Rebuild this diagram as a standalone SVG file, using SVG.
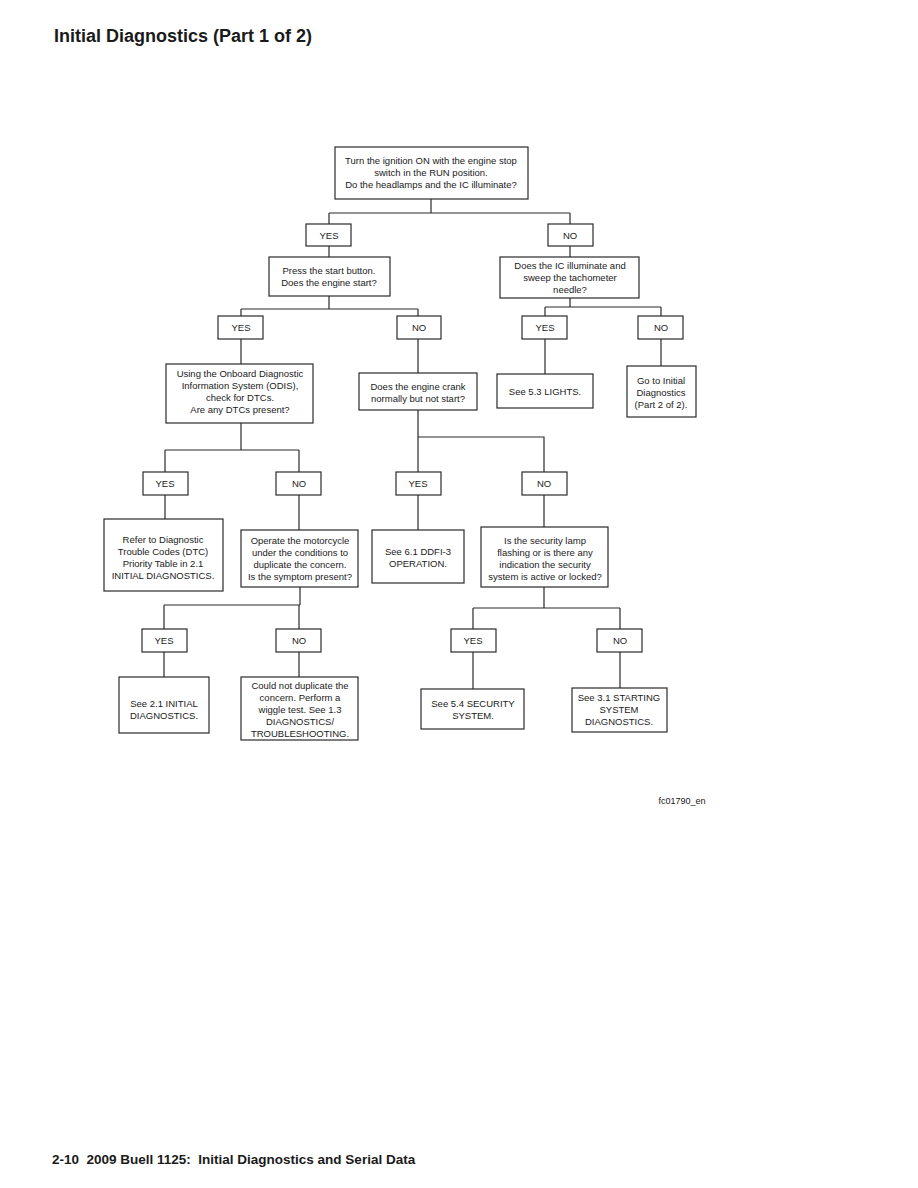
<svg xmlns="http://www.w3.org/2000/svg" width="918" height="1188" viewBox="0 0 918 1188">
<style>
.box{fill:#fff;stroke:#2a2a2a;stroke-width:1.2}
.t{font-family:"Liberation Sans",Arial,sans-serif;font-size:9.5px;fill:#1a1a1a;text-anchor:middle}
.c{fill:none;stroke:#2a2a2a;stroke-width:1.2}
.h{font-family:"Liberation Sans",Arial,sans-serif;font-weight:bold;fill:#1a1a1a}
</style>
<rect width="918" height="1188" fill="#fff"/>
<text class="h" x="54" y="42" font-size="18">Initial Diagnostics (Part 1 of 2)</text>
<g id="connectors">
<path class="c" d="M431 199V213M329 213H570M329 213V224M570 213V224"/>
<path class="c" d="M329 246V257M570 246V257"/>
<path class="c" d="M329 296V309M241 309H418M241 309V316M418 309V316"/>
<path class="c" d="M570 298V307M545 307H661M545 307V316M661 307V316"/>
<path class="c" d="M241 339V364M418 339V373M545 339V374M661 339V366"/>
<path class="c" d="M241 423V450M165 450H299M165 450V472M299 450V472"/>
<path class="c" d="M418 410V437H544V472M418 437V472"/>
<path class="c" d="M165 495V519M299 495V530M418 495V530M544 495V527"/>
<path class="c" d="M300 587V605M164 605H300M164 605V629M299 605V629"/>
<path class="c" d="M544 587V608M473 608H620M473 608V629M620 608V629"/>
<path class="c" d="M164 652V677M299 652V677M473 652V689M620 652V688"/>
</g>
<g id="n1"><rect class="box" x="335" y="147" width="193" height="52"/>
<text class="t" x="431" y="164">Turn the ignition ON with the engine stop</text>
<text class="t" x="431" y="176">switch in the RUN position.</text>
<text class="t" x="431" y="188">Do the headlamps and the IC illuminate?</text></g>
<g id="y1"><rect class="box" x="306" y="224" width="45" height="22"/><text class="t" x="329" y="238.5">YES</text></g>
<g id="no1"><rect class="box" x="548" y="224" width="45" height="22"/><text class="t" x="570" y="238.5">NO</text></g>
<g id="n2"><rect class="box" x="269" y="257" width="121" height="39"/>
<text class="t" x="329" y="274">Press the start button.</text>
<text class="t" x="329" y="286">Does the engine start?</text></g>
<g id="n3"><rect class="box" x="500" y="257" width="139" height="41"/>
<text class="t" x="570" y="269">Does the IC illuminate and</text>
<text class="t" x="570" y="281">sweep the tachometer</text>
<text class="t" x="570" y="293">needle?</text></g>
<g id="y2"><rect class="box" x="218" y="316" width="45" height="23"/><text class="t" x="241" y="331">YES</text></g>
<g id="no2"><rect class="box" x="397" y="316" width="44" height="23"/><text class="t" x="419" y="331">NO</text></g>
<g id="y3"><rect class="box" x="522" y="316" width="45" height="23"/><text class="t" x="545" y="331">YES</text></g>
<g id="no3"><rect class="box" x="638" y="316" width="45" height="23"/><text class="t" x="661" y="331">NO</text></g>
<g id="n4"><rect class="box" x="166" y="364" width="147" height="59"/>
<text class="t" x="240" y="377">Using the Onboard Diagnostic</text>
<text class="t" x="240" y="389">Information System (ODIS),</text>
<text class="t" x="240" y="401">check for DTCs.</text>
<text class="t" x="240" y="413">Are any DTCs present?</text></g>
<g id="n5"><rect class="box" x="359" y="373" width="118" height="37"/>
<text class="t" x="418" y="390">Does the engine crank</text>
<text class="t" x="418" y="402">normally but not start?</text></g>
<g id="n6"><rect class="box" x="497" y="374" width="96" height="34"/>
<text class="t" x="545" y="395">See 5.3 LIGHTS.</text></g>
<g id="n7"><rect class="box" x="627" y="366" width="69" height="51"/>
<text class="t" x="661" y="384">Go to Initial</text>
<text class="t" x="661" y="396">Diagnostics</text>
<text class="t" x="661" y="408">(Part 2 of 2).</text></g>
<g id="y4"><rect class="box" x="143" y="472" width="45" height="23"/><text class="t" x="165" y="487">YES</text></g>
<g id="no4"><rect class="box" x="276" y="472" width="45" height="23"/><text class="t" x="299" y="487">NO</text></g>
<g id="y5"><rect class="box" x="396" y="472" width="45" height="23"/><text class="t" x="418" y="487">YES</text></g>
<g id="no5"><rect class="box" x="522" y="472" width="45" height="23"/><text class="t" x="544" y="487">NO</text></g>
<g id="n8"><rect class="box" x="104" y="519" width="119" height="72"/>
<text class="t" x="163" y="543">Refer to Diagnostic</text>
<text class="t" x="163" y="555">Trouble Codes (DTC)</text>
<text class="t" x="163" y="567">Priority Table in 2.1</text>
<text class="t" x="163" y="579">INITIAL DIAGNOSTICS.</text></g>
<g id="n9"><rect class="box" x="241" y="530" width="117" height="57"/>
<text class="t" x="300" y="544">Operate the motorcycle</text>
<text class="t" x="300" y="556">under the conditions to</text>
<text class="t" x="300" y="568">duplicate the concern.</text>
<text class="t" x="300" y="580">Is the symptom present?</text></g>
<g id="n10"><rect class="box" x="372" y="530" width="92" height="53"/>
<text class="t" x="418" y="555">See 6.1 DDFI-3</text>
<text class="t" x="418" y="567">OPERATION.</text></g>
<g id="n11"><rect class="box" x="481" y="527" width="127" height="60"/>
<text class="t" x="545" y="544">Is the security lamp</text>
<text class="t" x="545" y="556">flashing or is there any</text>
<text class="t" x="545" y="568">indication the security</text>
<text class="t" x="545" y="580">system is active or locked?</text></g>
<g id="y6"><rect class="box" x="142" y="629" width="45" height="23"/><text class="t" x="164" y="644">YES</text></g>
<g id="no6"><rect class="box" x="276" y="629" width="45" height="23"/><text class="t" x="299" y="644">NO</text></g>
<g id="y7"><rect class="box" x="451" y="629" width="45" height="23"/><text class="t" x="473" y="644">YES</text></g>
<g id="no7"><rect class="box" x="597" y="629" width="45" height="23"/><text class="t" x="620" y="644">NO</text></g>
<g id="n12"><rect class="box" x="119" y="677" width="90" height="56"/>
<text class="t" x="164" y="707">See 2.1 INITIAL</text>
<text class="t" x="164" y="719">DIAGNOSTICS.</text></g>
<g id="n13"><rect class="box" x="241" y="677" width="117" height="63"/>
<text class="t" x="300" y="689">Could not duplicate the</text>
<text class="t" x="300" y="701">concern. Perform a</text>
<text class="t" x="300" y="713">wiggle test. See 1.3</text>
<text class="t" x="300" y="725">DIAGNOSTICS/</text>
<text class="t" x="300" y="737">TROUBLESHOOTING.</text></g>
<g id="n14"><rect class="box" x="421" y="689" width="103" height="40"/>
<text class="t" x="473" y="707">See 5.4 SECURITY</text>
<text class="t" x="473" y="719">SYSTEM.</text></g>
<g id="n15"><rect class="box" x="572" y="688" width="95" height="44"/>
<text class="t" x="619" y="701">See 3.1 STARTING</text>
<text class="t" x="619" y="713">SYSTEM</text>
<text class="t" x="619" y="725">DIAGNOSTICS.</text></g>
<text class="t" x="682" y="804" style="font-size:9px">fc01790_en</text>
<text class="h" x="52" y="1164" font-size="13.5" xml:space="preserve">2-10  2009 Buell 1125:  Initial Diagnostics and Serial Data</text>
</svg>
